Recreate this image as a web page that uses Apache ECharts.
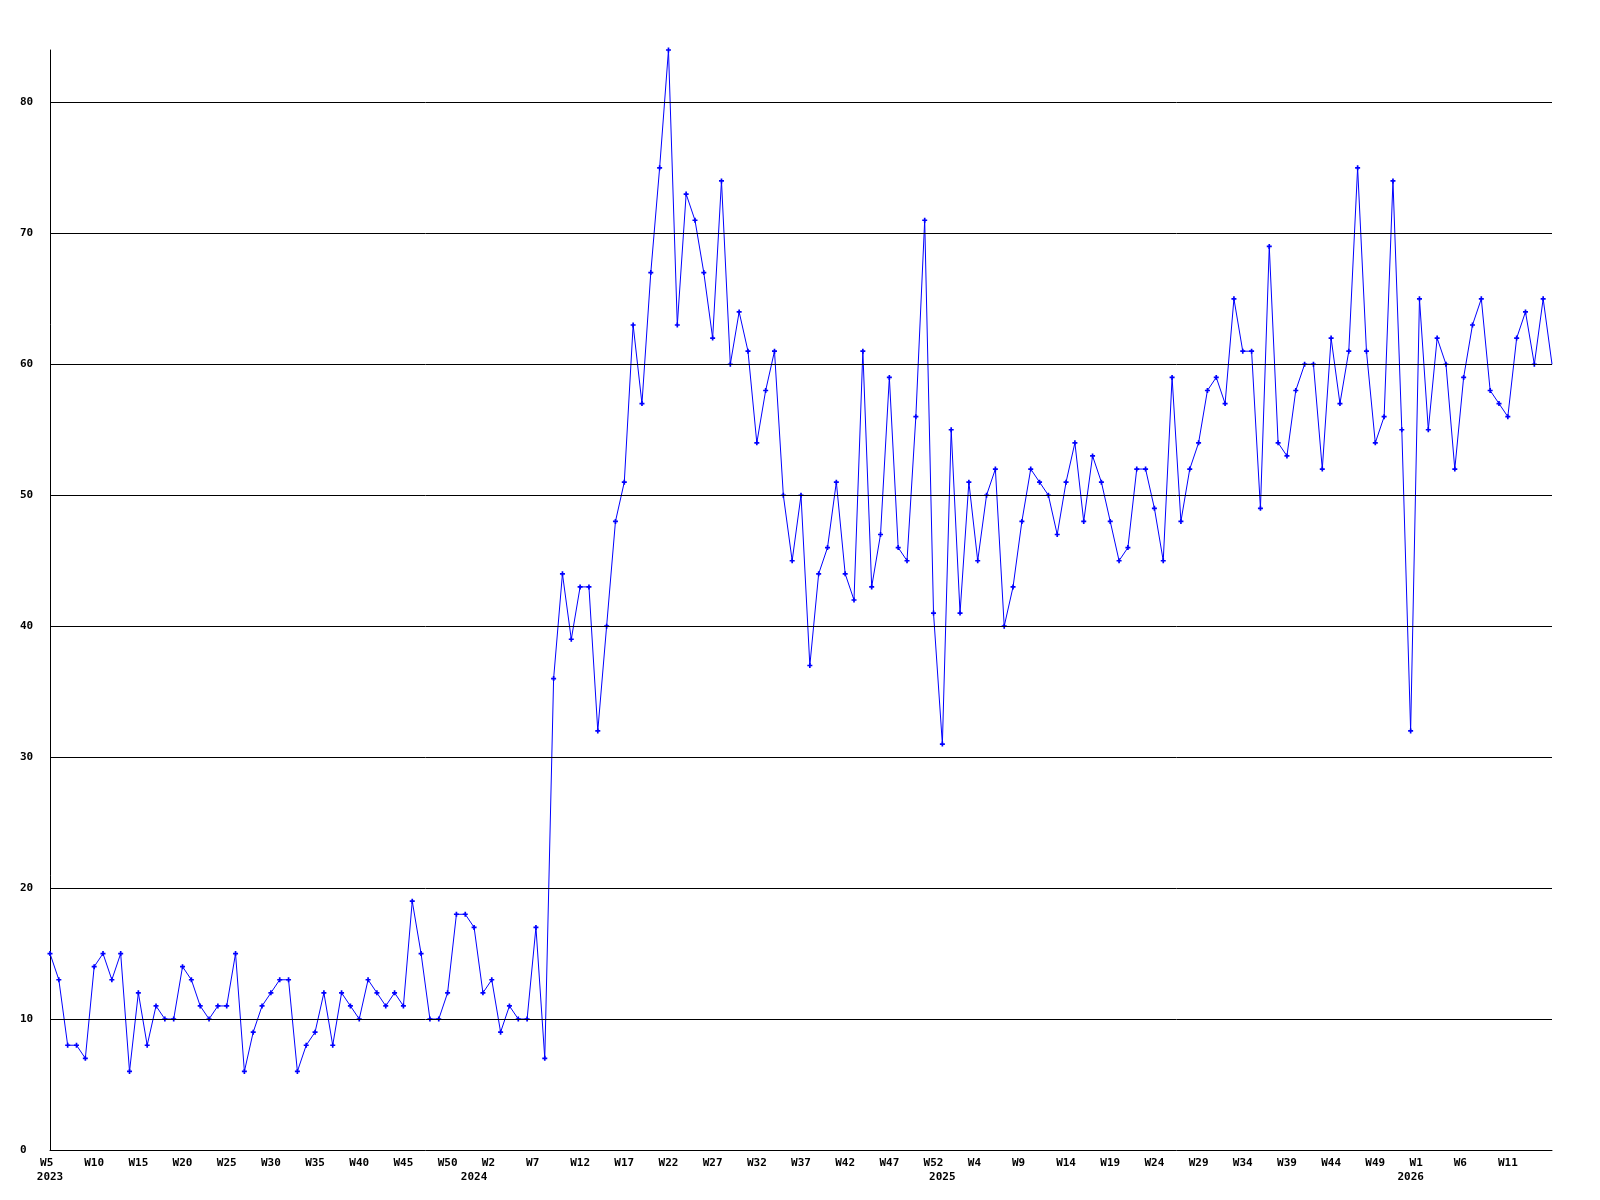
<!DOCTYPE html>
<html>
<head>
<meta charset="utf-8">
<script src="https://cdn.jsdelivr.net/npm/echarts@6/dist/echarts.min.js"></script>
<style>
html,body{margin:0;padding:0;background:#fff;}
#chart{width:1600px;height:1200px;}
</style>
</head>
<body>
<div id="chart"></div>
<script>
// Week ranges per year (first week, last week)
const yearWeeks = [
  [2023, 5, 52],
  [2024, 0, 52],
  [2025, 0, 52],
  [2026, 0, 16]
];
const values = [
  15,13,8,8,7,14,15,13,15,6,
  12,8,11,10,10,14,13,11,10,11,
  11,15,6,9,11,12,13,13,6,8,
  9,12,8,12,11,10,13,12,11,12,
  11,19,15,10,10,12,18,18,17,12,
  13,9,11,10,10,17,7,36,44,39,
  43,43,32,40,48,51,63,57,67,75,
  84,63,73,71,67,62,74,60,64,61,
  54,58,61,50,45,50,37,44,46,51,
  44,42,61,43,47,59,46,45,56,71,
  41,31,55,41,51,45,50,52,40,43,
  48,52,51,50,47,51,54,48,53,51,
  48,45,46,52,52,49,45,59,48,52,
  54,58,59,57,65,61,61,49,69,54,
  53,58,60,60,52,62,57,61,75,61,
  54,56,74,55,32,65,55,62,60,52,
  59,63,65,58,57,56,62,64,60,65,
  60
];
const gridValues = [10,20,30,40,50,60,70,80];

const categories = [];
yearWeeks.forEach(([y, a, b]) => { for (let w = a; w <= b; w++) categories.push(y + '-W' + w); });

const font = {fontFamily: 'DejaVu Sans Mono', fontSize: 11, fontWeight: 'bold', color: '#000'};
const plusSymbol = 'path://M2,0H4V2H6V4H4V6H2V4H0V2H2Z';
const lastIdx = values.length - 1;

const chart = echarts.init(document.getElementById('chart'), null, {renderer: 'canvas'});
chart.setOption({
  animation: false,
  backgroundColor: '#fff',
  grid: {left: 50, right: 48, top: 50, bottom: 50, containLabel: false},
  xAxis: [
    {
      type: 'category', data: categories, boundaryGap: false,
      axisLine: {show: true, lineStyle: {color: '#000', width: 1}},
      axisTick: {show: false},
      splitLine: {show: false},
      axisLabel: Object.assign({}, font, {
        interval: (idx) => idx % 5 === 0 && idx < lastIdx,
        margin: 8,
        formatter: v => { let s = v.split('-')[1]; while (s.length < 3) s += ' '; return s; }
      })
    },
    {
      type: 'category', data: categories, boundaryGap: false, position: 'bottom',
      axisLine: {show: false}, axisTick: {show: false}, splitLine: {show: false},
      axisLabel: Object.assign({}, font, {
        margin: 22,
        interval: (idx, v) => idx === 0 || v.endsWith('-W0'),
        formatter: v => v.split('-')[0]
      })
    }
  ],
  yAxis: {
    type: 'value', min: 0, max: 84, interval: 10,
    axisLine: {show: true, lineStyle: {color: '#000', width: 1}},
    axisTick: {show: false},
    splitLine: {show: false},
    axisLabel: Object.assign({}, font, {align: 'left', margin: 30, showMaxLabel: false})
  },
  series: [{
    type: 'line', xAxisIndex: 0, data: values,
    symbol: (v, p) => p.dataIndex === lastIdx ? 'none' : plusSymbol,
    symbolSize: 5, showAllSymbol: true,
    lineStyle: {color: '#0000ff', width: 1},
    itemStyle: {color: '#0000ff'},
    markLine: {
      silent: true, symbol: ['none', 'none'], label: {show: false},
      lineStyle: {color: '#000', width: 1, type: 'solid'},
      data: gridValues.map(v => ({yAxis: v}))
    }
  }]
});
</script>
</body>
</html>
